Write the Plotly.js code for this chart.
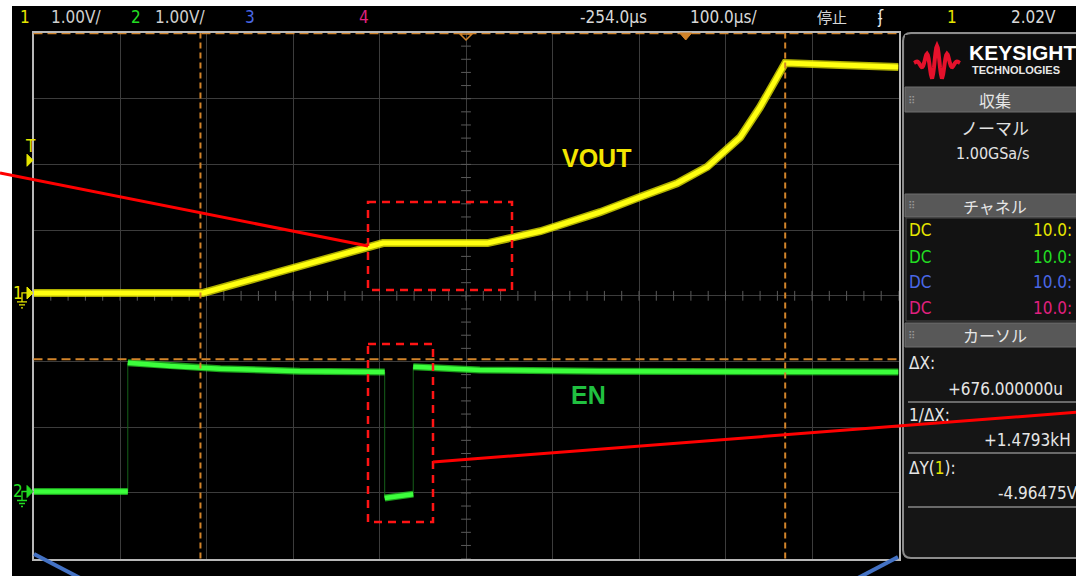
<!DOCTYPE html>
<html><head><meta charset="utf-8">
<script src="https://cdn.plot.ly/plotly-3.0.1.min.js"></script>
<style>html,body{margin:0;padding:0;background:#fff;overflow:hidden}</style>
</head><body><div id="chart" style="width:1076px;height:576px"></div>
<script>
// ---------- data (µs, volts) ----------
const voutTime = [-754, -558, -350, -229, -168, -99, -53, -10, 25, 63, 86, 101, 115, 178, 246];
const voutVolt = [0, 0, 0.76, 0.76, 0.94, 1.23, 1.46, 1.67, 1.92, 2.37, 2.83, 3.17, 3.50, 3.47, 3.44];
const enTime = [-754, -645, -645, -596, -538, -446, -348, -348, -315, -315, -238, -99, 246];
const enVolt = [0, 0, 1.96, 1.91, 1.87, 1.83, 1.82, -0.10, -0.04, 1.90, 1.85, 1.83, 1.82];
const cursorX = [-561, 115];
const cursorY = [3.955, -1.01];
const triggerLevel = 2.02;
const timePerDiv = 100, delay = -254;
const topBarLeft = ['1', '1.00V/', '2', '1.00V/', '3', '4'];
const topBarRight = ['-254.0µs', '100.0µs/', '停止', '1', '2.02V'];
const channelCoupling = ['DC', 'DC', 'DC', 'DC'];
const channelProbe = ['10.0:', '10.0:', '10.0:', '10.0:'];
const cursorLabels = ['ΔX:', '+676.000000u', '1/ΔX:', '+1.4793kH', 'ΔY(<span style="color:#e6e600">1</span>):', '-4.96475V'];

// ---------- geometry helpers ----------
const W = 1076, H = 576;
const X = p => p / W, Y = p => 1 - p / H;
const plotL = 33.5, plotR = 898.5, plotT = 33, plotB = 558.6;
const xRange = [delay - 5 * timePerDiv, delay + 5 * timePerDiv];
const y1Range = [-4.043, 3.957];
const y2Range = [-1.021, 6.979];
const FONT = '"DejaVu Sans Condensed", "Liberation Sans Narrow", "DejaVu Sans", sans-serif';
const JP = '"Noto Sans CJK JP", "DejaVu Sans Condensed", sans-serif';

const chColors = ['#e6e600', '#22dd22', '#4a68e6', '#e0207f'];
const orange = '#d2842a';

// ---------- traces ----------
const yCenter = (y1Range[0] + y1Range[1]) / 2;
const tickX = [], tickY = [];
for (let t = xRange[0]; t <= xRange[1] + 1e-6; t += timePerDiv / 5) { tickX.push(t); tickY.push(yCenter); }
const vtX = [], vtY = [];
for (let v = y1Range[0]; v <= y1Range[1] + 1e-6; v += 0.2) { vtX.push(delay); vtY.push(v); }

// split EN into level segments and vertical edges
const enSegX = [], enSegY = [], enEdgeX = [], enEdgeY = [];
for (let i = 0; i < enTime.length; i++) {
  if (i > 0 && enTime[i] === enTime[i - 1]) {
    enSegX.push(null); enSegY.push(null);
    enEdgeX.push(enTime[i - 1], enTime[i], null);
    enEdgeY.push(enVolt[i - 1], enVolt[i], null);
  }
  enSegX.push(enTime[i]); enSegY.push(enVolt[i]);
}

const traces = [
  {x: tickX, y: tickY, mode: 'markers', hoverinfo: 'skip', showlegend: false,
   marker: {symbol: 'line-ns', size: 7, line: {width: 1, color: '#5a5a5a'}}},
  {x: vtX, y: vtY, mode: 'markers', hoverinfo: 'skip', showlegend: false,
   marker: {symbol: 'line-ew', size: 7, line: {width: 1, color: '#5a5a5a'}}},
  {x: enEdgeX, y: enEdgeY, yaxis: 'y2', mode: 'lines', hoverinfo: 'skip', showlegend: false,
   line: {color: '#16601a', width: 1}},
  {x: enSegX, y: enSegY, yaxis: 'y2', mode: 'lines', hoverinfo: 'skip', showlegend: false,
   line: {color: 'rgba(40,225,40,0.7)', width: 7}},
  {x: enSegX, y: enSegY, yaxis: 'y2', mode: 'lines', name: 'EN', showlegend: false,
   line: {color: '#3cff3c', width: 4.5}},
  {x: voutTime, y: voutVolt, mode: 'lines', hoverinfo: 'skip', showlegend: false,
   line: {color: 'rgba(235,235,0,0.75)', width: 8}},
  {x: voutTime, y: voutVolt, mode: 'lines', name: 'VOUT', showlegend: false,
   line: {color: '#ffff10', width: 5}}
];

// ---------- shapes ----------
function rrect(x0, y0, x1, y1, r) {
  return `M${X(x0 + r)},${Y(y0)} L${X(x1 - r)},${Y(y0)} Q${X(x1)},${Y(y0)} ${X(x1)},${Y(y0 + r)} L${X(x1)},${Y(y1 - r)} Q${X(x1)},${Y(y1)} ${X(x1 - r)},${Y(y1)} L${X(x0 + r)},${Y(y1)} Q${X(x0)},${Y(y1)} ${X(x0)},${Y(y1 - r)} L${X(x0)},${Y(y0 + r)} Q${X(x0)},${Y(y0)} ${X(x0 + r)},${Y(y0)} Z`;
}
function poly(pts, close) {
  return pts.map((p, i) => (i ? 'L' : 'M') + X(p[0]) + ',' + Y(p[1])).join(' ') + (close ? ' Z' : '');
}
const P = {xref: 'paper', yref: 'paper'};
const shapes = [];
// screen background
shapes.push({...P, type: 'rect', x0: X(12), x1: X(W + 5), y0: Y(6), y1: Y(H + 5), fillcolor: '#000', line: {width: 0}, layer: 'below'});
// side panel
shapes.push({...P, type: 'path', path: rrect(903, 33, 1090, 558, 8), fillcolor: '#151515', line: {color: '#8c8c8c', width: 2}, layer: 'below'});
shapes.push({...P, type: 'rect', x0: X(905), x1: X(1078), y0: Y(35), y1: Y(87), fillcolor: '#0d0d0d', line: {width: 0}, layer: 'below'});
[[87, 112], [194, 217], [323, 347]].forEach(([a, b]) => {
  shapes.push({...P, type: 'rect', x0: X(905), x1: X(1078), y0: Y(a), y1: Y(b), fillcolor: '#585858', line: {color: '#6e6e6e', width: 1}, layer: 'below'});
});
shapes.push({...P, type: 'rect', x0: X(906), x1: X(1078), y0: Y(218), y1: Y(321), fillcolor: '#121212', line: {color: '#4a4a4a', width: 1}, layer: 'below'});
[402, 453, 507].forEach(yy => shapes.push({...P, type: 'line', x0: X(908), x1: X(1078), y0: Y(yy), y1: Y(yy), line: {color: '#6a6a6a', width: 2}}));
// keysight logo wave
(function () {
  const pts = [];
  const cx = 937, cy = 63;
  for (let i = 0; i <= 60; i++) {
    const u = (i / 60) * 2 - 1; // -1..1
    const amp = 17 * Math.exp(-3.2 * u * u);
    pts.push([cx + u * 23, cy - amp * Math.cos(u * 14)]);
  }
  shapes.push({...P, type: 'path', path: poly(pts, false), line: {color: '#e5112b', width: 4}});
})();
// cursors
cursorX.forEach(t => shapes.push({type: 'line', xref: 'x', yref: 'paper', x0: t, x1: t, y0: Y(plotB), y1: Y(plotT), line: {color: orange, width: 2, dash: '6px,4px'}}));
cursorY.forEach(v => shapes.push({type: 'line', xref: 'paper', yref: 'y', x0: X(plotL), x1: X(plotR), y0: v, y1: v, line: {color: orange, width: 2, dash: '9px,5px'}}));
// top markers: delay reference (outlined) and trigger point (filled)
shapes.push({...P, type: 'path', path: poly([[460, 34], [472, 34], [466, 40]], true), line: {color: orange, width: 1.5}, fillcolor: 'rgba(0,0,0,0)'});
const trigPx = plotL + (0 - xRange[0]) / (xRange[1] - xRange[0]) * (plotR - plotL);
shapes.push({...P, type: 'path', path: poly([[trigPx - 6, 33], [trigPx + 6, 33], [trigPx, 40]], true), line: {color: orange, width: 1}, fillcolor: orange});
// left channel markers
const v2px = v => plotT + (y1Range[1] - v) / (y1Range[1] - y1Range[0]) * (plotB - plotT);
const v2px2 = v => plotT + (y2Range[1] - v) / (y2Range[1] - y2Range[0]) * (plotB - plotT);
function chMarker(py, col) {
  shapes.push({...P, type: 'path', path: poly([[27, py - 6], [33, py], [27, py + 6]], true), fillcolor: col, line: {color: col, width: 1}});
  shapes.push({...P, type: 'path', path: `M${X(27)},${Y(py)} L${X(22)},${Y(py)} L${X(22)},${Y(py + 9)} M${X(17)},${Y(py + 9)} L${X(27)},${Y(py + 9)} M${X(19)},${Y(py + 12)} L${X(25)},${Y(py + 12)} M${X(21)},${Y(py + 15)} L${X(23)},${Y(py + 15)}`, line: {color: col, width: 1.3}});
}
chMarker(v2px(0), chColors[0]);
chMarker(v2px2(0), chColors[1]);
const tPx = v2px(triggerLevel);
shapes.push({...P, type: 'path', path: poly([[27, tPx - 6], [33, tPx], [27, tPx + 6]], true), fillcolor: chColors[0], line: {color: chColors[0], width: 1}});
// red callouts
shapes.push({...P, type: 'rect', x0: X(368), x1: X(512), y0: Y(202), y1: Y(290), line: {color: '#ff1414', width: 2.5, dash: '8px,6px'}});
shapes.push({...P, type: 'rect', x0: X(368), x1: X(433), y0: Y(344), y1: Y(522), line: {color: '#ff1414', width: 2.5, dash: '8px,6px'}});
shapes.push({...P, type: 'line', x0: X(0), y0: Y(173), x1: X(368), y1: Y(246), line: {color: '#ff0000', width: 3}});
shapes.push({...P, type: 'line', x0: X(433), y0: Y(462), x1: X(1080), y1: Y(412), line: {color: '#ff0000', width: 3}});
// blue bottom lines
shapes.push({...P, type: 'line', x0: X(34), y0: Y(554), x1: X(80), y1: Y(578), line: {color: '#4472c4', width: 4}});
shapes.push({...P, type: 'line', x0: X(898), y0: Y(557), x1: X(858), y1: Y(578), line: {color: '#4472c4', width: 4}});

// ---------- annotations ----------
const ann = [];
function txt(x, y, text, color, size, anchor, family, bold) {
  ann.push({xref: 'paper', yref: 'paper', x: X(x), y: Y(y), text: bold ? '<b>' + text + '</b>' : text,
    showarrow: false, xanchor: anchor || 'left', yanchor: 'middle',
    font: {color: color, size: size, family: family || FONT}});
}
// top bar
txt(18, 17, topBarLeft[0], chColors[0], 17);
txt(49, 17, topBarLeft[1], '#cfcfcf', 17);
txt(129, 17, topBarLeft[2], chColors[1], 17);
txt(153, 17, topBarLeft[3], '#cfcfcf', 17);
txt(243, 17, topBarLeft[4], chColors[2], 17);
txt(357, 17, topBarLeft[5], chColors[3], 17);
txt(578, 17, topBarRight[0], '#d8d8d8', 17);
txt(688, 17, topBarRight[1], '#d8d8d8', 17);
txt(832, 17, topBarRight[2], '#d8d8d8', 15, 'center', JP);
txt(880, 17, 'ʄ', '#e8e8e8', 17, 'center');
txt(952, 17, topBarRight[3], chColors[0], 17, 'center');
txt(1058, 17, topBarRight[4], '#d8d8d8', 17, 'right');
// left markers text
txt(11, 293, '1', chColors[0], 17);
txt(11, v2px2(0) - 1, '2', chColors[1], 17);
txt(23, 146, 'T', chColors[0], 17);
// signal labels
txt(596, 158, 'VOUT', '#f3e600', 25, 'center', '"Liberation Sans", Arial, sans-serif', true);
txt(588, 395, 'EN', '#20c040', 25, 'center', '"Liberation Sans", Arial, sans-serif', true);
// logo text
txt(967, 52, 'KEYSIGHT', '#ffffff', 21, 'left', '"Liberation Sans", Arial, sans-serif', true);
txt(970, 70, 'TECHNOLOGIES', '#e8e8e8', 11, 'left', '"Liberation Sans", Arial, sans-serif', true);
// panel headers
[[100, '収集'], [206, 'チャネル'], [335, 'カーソル']].forEach(([yy, t]) => {
  txt(995, yy, t, '#e6e6e6', 16, 'center', JP);
  txt(911, yy, '⠿', '#9a9a9a', 10, 'center', '"DejaVu Sans", sans-serif');
});
txt(995, 127, 'ノーマル', '#e2e2e2', 17, 'center', JP);
txt(993, 153, '1.00GSa/s', '#e2e2e2', 16, 'center');
[230, 257, 282, 308].forEach((yy, i) => {
  txt(907, yy, channelCoupling[i], chColors[i], 17);
  txt(1074, yy, channelProbe[i], chColors[i], 17, 'right');
});
txt(907, 363, cursorLabels[0], '#e6e6e6', 17);
txt(946, 389, cursorLabels[1], '#e6e6e6', 17);
txt(907, 415, cursorLabels[2], '#e6e6e6', 17);
txt(982, 440, cursorLabels[3], '#e6e6e6', 17);
txt(907, 468, cursorLabels[4], '#e6e6e6', 17);
txt(996, 493, cursorLabels[5], '#e6e6e6', 17);

const layout = {
  width: W, height: H, autosize: false,
  margin: {l: 0, r: 0, t: 0, b: 0, pad: 0},
  paper_bgcolor: '#ffffff', plot_bgcolor: '#000000',
  showlegend: false,
  xaxis: {domain: [X(plotL), X(plotR)], range: xRange, tickmode: 'linear', tick0: xRange[0], dtick: timePerDiv,
    showticklabels: false, ticks: '', showgrid: true, gridcolor: '#3c3c3c', gridwidth: 1, zeroline: false,
    showline: true, mirror: true, linecolor: '#b8b8b8', linewidth: 2, fixedrange: true},
  yaxis: {domain: [Y(plotB), Y(plotT)], range: y1Range, tickmode: 'linear', tick0: y1Range[0], dtick: 1,
    showticklabels: false, ticks: '', showgrid: true, gridcolor: '#3c3c3c', gridwidth: 1, zeroline: false,
    showline: true, mirror: true, linecolor: '#b8b8b8', linewidth: 2, fixedrange: true},
  yaxis2: {overlaying: 'y', range: y2Range, showgrid: false, showticklabels: false, ticks: '', zeroline: false,
    showline: false, fixedrange: true},
  shapes: shapes, annotations: ann
};
Plotly.newPlot('chart', traces, layout, {staticPlot: true, displayModeBar: false});
</script></body></html>
